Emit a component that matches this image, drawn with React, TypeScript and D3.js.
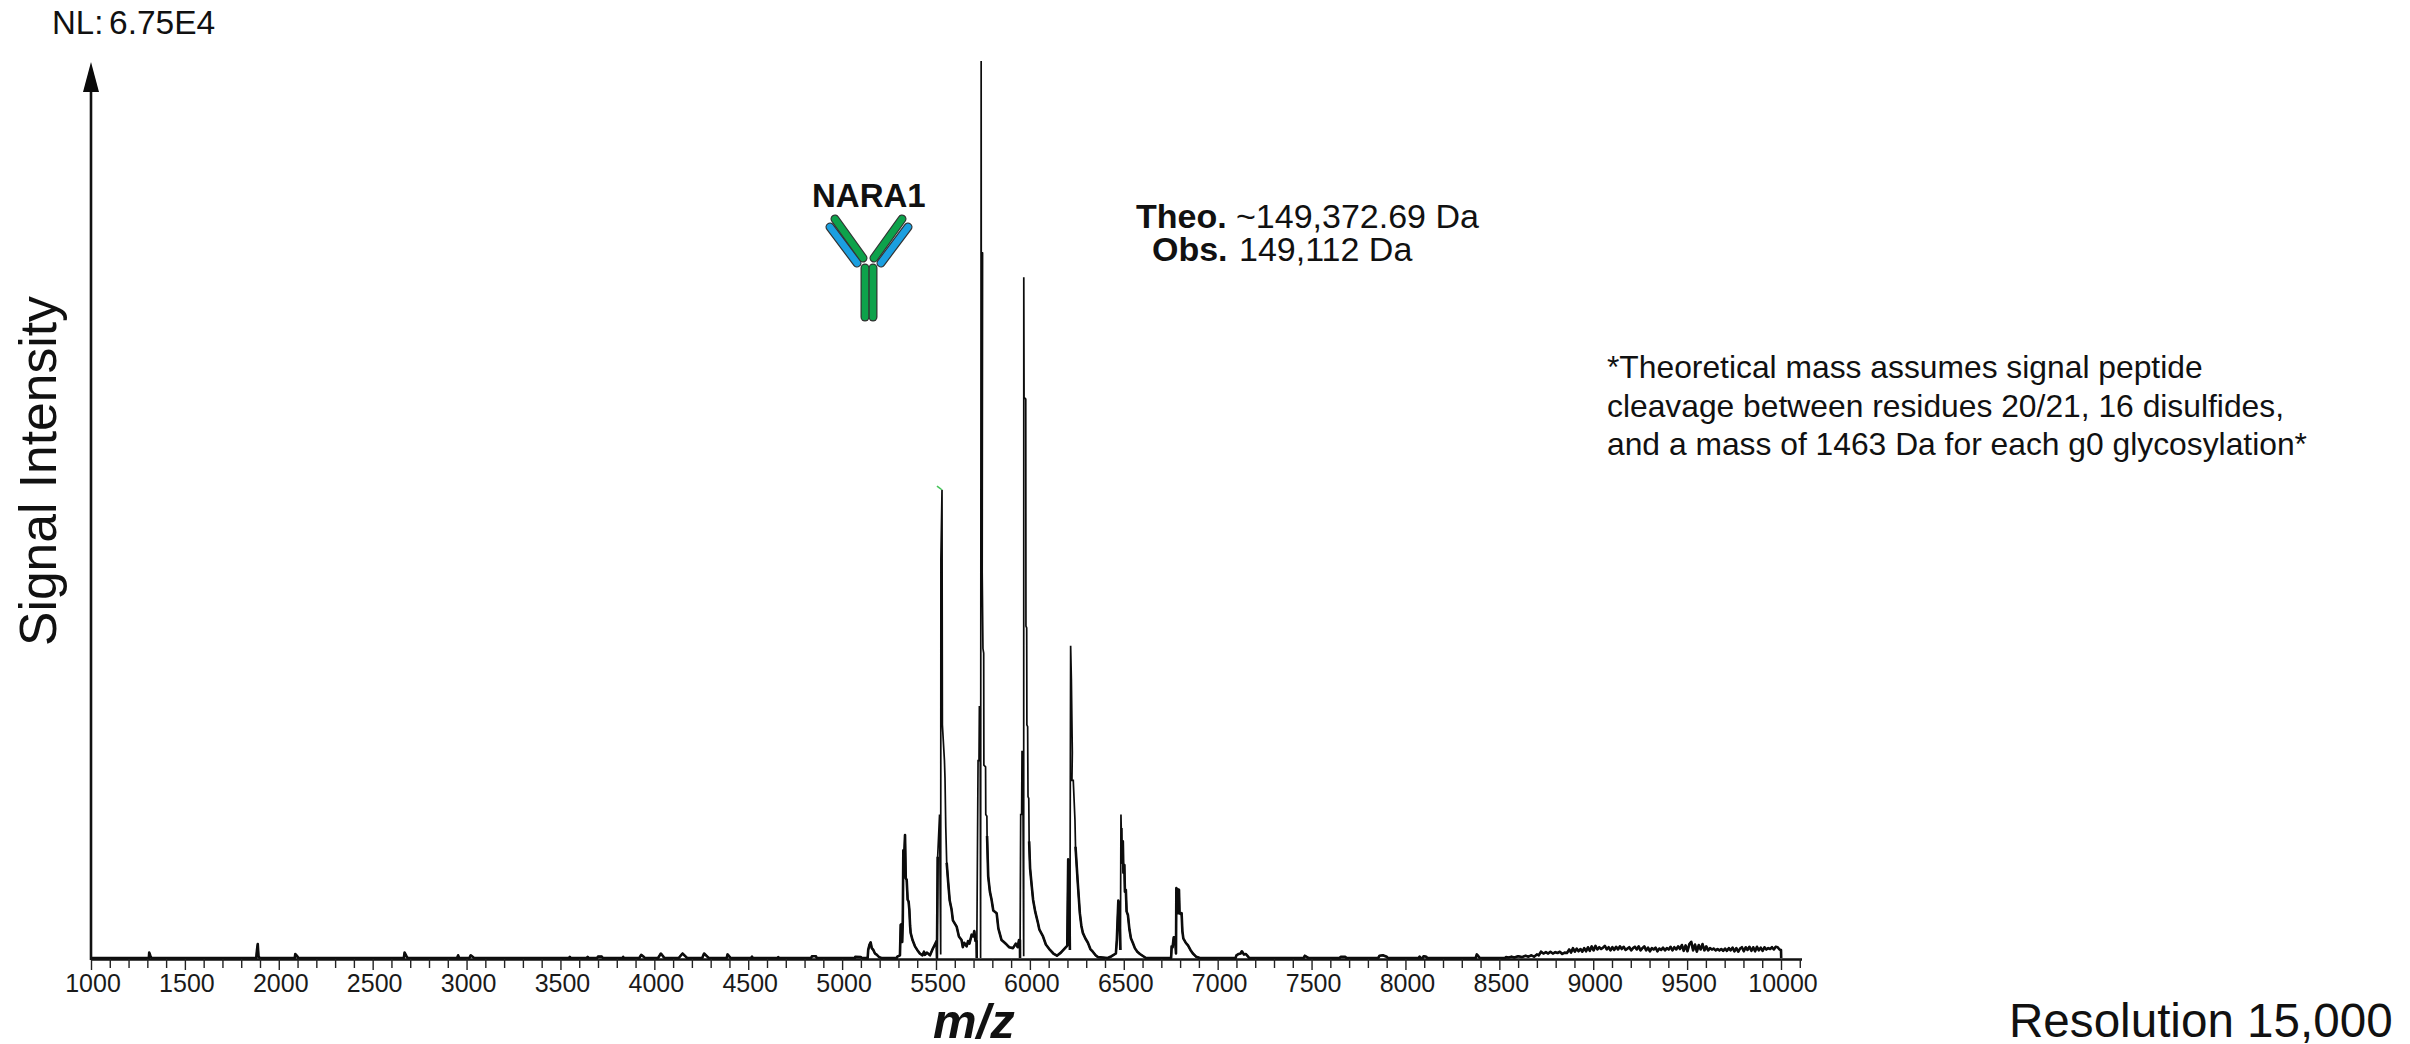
import { useEffect, useRef } from "react";
import * as d3 from "d3";

type Pt = [number, number];

// spectrum as [m/z, relative intensity %]
const lowMassBlips: Pt[] = [
  [1000, 0], [1308, 0], [1310, 0.6], [1316, 0.25], [1322, 0], [1880, 0], [1884, 0.9], [1888, 1.55], [1892, 0.2], [1898, 0],
  [2085, 0], [2088, 0.45], [2098, 0.2], [2104, 0], [2666, 0], [2670, 0.6], [2680, 0.2], [2686, 0],
  [2950, 0], [2955, 0.3], [2960, 0], [3015, 0], [3022, 0.3], [3034, 0.1], [3040, 0],
  [3545, 0], [3550, 0.12], [3555, 0], [3640, 0], [3645, 0.12], [3650, 0], [3695, 0], [3700, 0.15], [3720, 0.15], [3726, 0],
  [3830, 0], [3834, 0.12], [3838, 0], [3920, 0], [3930, 0.35], [3945, 0.1], [3950, 0],
  [4020, 0], [4035, 0.5], [4050, 0.1], [4055, 0], [4130, 0], [4150, 0.5], [4170, 0.1], [4175, 0],
  [4255, 0], [4265, 0.5], [4285, 0.1], [4290, 0], [4385, 0], [4390, 0.4], [4402, 0.1], [4406, 0],
  [4515, 0], [4520, 0.15], [4525, 0], [4655, 0], [4660, 0.1], [4665, 0], [4835, 0], [4840, 0.2], [4860, 0.2], [4865, 0],
  [5068, 0], [5070, 0.12], [5100, 0.1], [5104, 0],
];

const smallPeak: Pt[] = [
  [5136, 0], [5139, 0.9], [5146, 1.5], [5152, 1.75], [5158, 1.1], [5166, 0.9], [5175, 0.5], [5184, 0.37], [5197, 0.1], [5210, 0],
];

const firstPeak: Pt[] = [
  [5290, 0], [5294, 0.15], [5308, 0.3], [5312, 3.7], [5318, 3.8], [5320, 1.8], [5323, 4], [5326, 12], [5331, 11.5], [5335, 13.7],
  [5339, 8.9], [5344, 8.7], [5349, 6.5], [5354, 6.3], [5358, 5.4], [5362, 3.6], [5365, 2.8], [5375, 2], [5388, 1.3], [5400, 0.9],
  [5414, 0.5], [5428, 0.3], [5436, 0.7], [5441, 0.35], [5452, 0.6], [5468, 0.3], [5480, 0.9], [5494, 1.5], [5503, 1.9],
];

const secondPeak: Pt[] = [
  [5505, 0], [5509, 11.3], [5519, 16], [5525, 0.4], [5526, 44.5], [5532, 52.2], [5534, 26], [5545, 22], [5548, 20], [5552, 14.6],
  [5557, 10.6], [5565, 8.4], [5573, 6.4], [5583, 5.4], [5590, 4.2], [5610, 3.5], [5622, 2.4], [5636, 2], [5643, 1.2], [5650, 1.7],
  [5663, 1.3], [5671, 1.9], [5678, 1.6], [5690, 2.6], [5698, 2.4], [5704, 3], [5710, 1.9], [5716, 1.9],
];

const tallestPeak: Pt[] = [
  [5717, 0], [5724, 22], [5729, 22], [5731, 28], [5735, 28], [5737.5, 0], [5740.5, 100], [5741, 78.7], [5748, 78.6], [5746, 43],
  [5750, 34.5], [5754, 34], [5755, 21.5], [5764, 21.3], [5765, 16], [5771, 15.8], [5772, 13.6], [5778, 9.1], [5787, 7.4], [5796, 6.5],
  [5805, 5.3], [5823, 5], [5832, 3.3], [5849, 2], [5860, 1.8], [5876, 1.5], [5890, 1.2], [5910, 1.1], [5925, 1.6], [5935, 1.2], [5942, 2], [5947, 2],
];

const thirdPeak: Pt[] = [
  [5947.5, 0], [5951, 16], [5956, 16], [5958, 23], [5962, 23], [5967, 0.2], [5967.5, 75.9], [5969, 62.5], [5978, 62.3], [5979, 37],
  [5983, 36.8], [5984, 26], [5988, 25.8], [5990, 18], [5994, 17.8], [5996, 13], [6001, 10], [6009, 8.2], [6017, 6.5], [6028, 5.2],
  [6043, 3.9], [6050, 3.2], [6070, 2.4], [6085, 1.5], [6107, 0.9], [6125, 0.5], [6144, 0.26], [6165, 0.6], [6187, 1.1], [6196, 1.3],
];

const fourthPeak: Pt[] = [
  [6199, 1.4], [6204, 11], [6208, 10.8], [6213, 0.9], [6217, 34.8], [6221, 31], [6226, 22.9], [6224, 19.8], [6231, 19.8], [6240, 15.4],
  [6243, 12.4], [6254, 8.7], [6266, 5], [6274, 3.6], [6282, 2.8], [6295, 2.2], [6309, 1.7], [6322, 1], [6335, 0.7], [6350, 0.3], [6362, 0.1],
  [6415, 0], [6435, 0.2], [6458, 0.5],
];

const fifthPeak: Pt[] = [
  [6463, 2], [6471, 6.4], [6474, 6.2], [6482, 0.9], [6485, 16], [6488, 13], [6490, 14.5], [6492, 10.5], [6495, 13], [6498, 9.5], [6503, 10.4],
  [6506, 7.4], [6511, 7.6], [6515, 5.2], [6522, 4.8], [6530, 3.2], [6538, 2.2], [6548, 1.7], [6559, 1.1], [6572, 0.7], [6586, 0.45], [6618, 0],
];

const sixthPeak: Pt[] = [
  [6752, 0], [6755, 1.3], [6760, 1.2], [6766, 2.3], [6773, 2.3], [6778, 0.5], [6780, 7.8], [6783, 5.5], [6786, 7.7], [6789, 5], [6794, 7.6],
  [6797, 5], [6803, 4.9], [6808, 5], [6812, 3], [6817, 2.2], [6830, 1.7], [6842, 1.4], [6855, 0.9], [6868, 0.5], [6885, 0.15], [6905, 0],
];

const highMassBlips: Pt[] = [
  [7095, 0], [7100, 0.3], [7112, 0.45], [7122, 0.5], [7129, 0.75], [7140, 0.4], [7150, 0.45], [7160, 0.2], [7168, 0],
  [7458, 0], [7464, 0.25], [7478, 0.08], [7482, 0], [7650, 0], [7655, 0.12], [7680, 0.12], [7685, 0],
  [7855, 0], [7862, 0.25], [7880, 0.3], [7900, 0.15], [7906, 0], [8070, 0], [8075, 0.15], [8082, 0], [8092, 0], [8097, 0.2], [8110, 0.15], [8116, 0],
  [8374, 0], [8380, 0.4], [8392, 0.1], [8396, 0], [8530, 0], [8535, 0.1], [8550, 0.05], [8565, 0.15], [8580, 0.05], [8600, 0.2], [8620, 0.1],
  [8640, 0.25], [8655, 0.15], [8670, 0.3], [8685, 0.15],
];

const highMassRise: Pt[] = [
  [8700, 0.4], [8710, 0.3], [8722, 0.7], [8735, 0.5], [8748, 0.65], [8760, 0.5], [8772, 0.7], [8785, 0.5], [8798, 0.65], [8810, 0.55],
  [8822, 0.7], [8835, 0.45], [8848, 0.6], [8860, 0.55], [8872, 0.95], [8882, 0.6], [8892, 1.1], [8902, 0.7], [8912, 1.05], [8922, 0.75],
  [8932, 1], [8942, 0.7], [8952, 1.1], [8962, 0.75], [8972, 1.2], [8982, 0.8], [8992, 1.3], [9002, 0.85], [9012, 1.35], [9022, 0.95],
  [9032, 1.2], [9042, 1], [9052, 1.15], [9062, 1.35], [9072, 0.95], [9082, 1.2], [9092, 0.85], [9102, 1.2], [9112, 0.9], [9122, 1.25],
  [9132, 0.95], [9142, 1.3], [9152, 1], [9162, 1.25], [9172, 0.9], [9182, 1.05], [9192, 1.2], [9202, 0.85], [9212, 1.1], [9222, 1.25],
  [9232, 0.95], [9242, 1.3], [9252, 0.85], [9262, 1.1], [9272, 1.3], [9282, 0.85], [9292, 1.15], [9302, 0.75], [9312, 1.1], [9322, 0.95],
  [9332, 1.15], [9342, 0.75], [9352, 1.05], [9362, 0.9], [9372, 1.15], [9382, 0.85], [9392, 1.1], [9402, 0.95], [9412, 1.25], [9422, 0.85],
  [9432, 1.2], [9442, 0.95], [9452, 1.3], [9462, 1], [9472, 1.45], [9482, 0.8], [9492, 1.4], [9502, 0.75], [9512, 1.55], [9522, 1.8],
  [9532, 0.85], [9542, 1.5], [9552, 0.7], [9562, 1.45], [9572, 0.95], [9582, 1.55], [9592, 0.85], [9602, 1.3], [9612, 0.85], [9622, 1.1],
  [9632, 0.95], [9642, 1.05], [9652, 0.85], [9662, 1], [9672, 0.85], [9682, 1], [9692, 0.8], [9702, 1.05], [9712, 0.8], [9722, 1.1],
  [9732, 0.85], [9742, 1.15], [9752, 0.75], [9762, 1.1], [9772, 0.7], [9782, 1.05], [9792, 1.2], [9802, 0.75], [9812, 1.2], [9822, 0.9],
  [9832, 1.25], [9842, 0.8], [9852, 1.2], [9862, 0.75], [9872, 1.25], [9882, 0.85], [9892, 1.15], [9902, 0.8], [9912, 1.2], [9922, 0.95],
  [9932, 1.1], [9942, 1], [9952, 1.2], [9962, 0.95], [9972, 1.25], [9982, 1.2], [9992, 0.95], [10000, 0.9], [10001, 0],
];

const spectrum: Pt[] = [
  ...lowMassBlips, ...smallPeak, ...firstPeak, ...secondPeak, ...tallestPeak, ...thirdPeak,
  ...fourthPeak, ...fifthPeak, ...sixthPeak, ...highMassBlips, ...highMassRise,
];

// stray green label mark above the 5530 peak
const greenMark: Pt[] = [[5505, 52.6], [5518, 52.4], [5531, 52.2]];

const majorTicks = d3.range(1000, 10001, 500);
const allTicks = d3.range(1000, 10101, 100);

const theoLabel = "Theo.";
const theoValue = "~149,372.69 Da";
const obsLabel = "Obs.";
const obsValue = "149,112 Da";
const footnoteLines = [
  "*Theoretical mass assumes signal peptide",
  "cleavage between residues 20/21, 16 disulfides,",
  "and a mass of 1463 Da for each g0 glycosylation*",
];

const FONT = "'Liberation Sans', Arial, sans-serif";
const WIDTH = 2410;
const HEIGHT = 1044;

const xScale = d3.scaleLinear().domain([1000, 10000]).range([91, 1781]);
const yScale = d3.scaleLinear().domain([0, 100]).range([958, 61]);

// antibody arms and stem, [x1, y1, x2, y2, colour]
const GREEN = "#0da24b";
const BLUE = "#1b9fe0";
const antibody: [number, number, number, number, string][] = [
  [830, 227, 857, 263, BLUE],
  [835, 219, 863, 258, GREEN],
  [908, 227, 881, 263, BLUE],
  [902, 219, 874, 258, GREEN],
  [865, 268, 865, 317, GREEN],
  [873, 268, 873, 317, GREEN],
];

export default function App() {
  const axisRef = useRef<SVGGElement>(null);

  useEffect(() => {
    const g = d3.select(axisRef.current);
    g.selectAll("*").remove();
    const axis = d3
      .axisBottom(xScale)
      .tickValues(allTicks)
      .tickSizeOuter(0)
      .tickSize(9)
      .tickFormat((d) => (majorTicks.includes(+d) ? String(d) : ""));
    g.call(axis as any);
    g.select(".domain").attr("stroke", "#111").attr("stroke-width", 2.6).attr("d", `M91,0.5H1802`);
    g.selectAll<SVGLineElement, number>(".tick line")
      .attr("stroke", "#222")
      .attr("stroke-width", 1.4)
      .attr("y2", (d) => (majorTicks.includes(d) ? 11 : 9));
    g.selectAll(".tick text")
      .attr("x", 1.5)
      .attr("y", 15)
      .attr("dy", "0.71em")
      .attr("fill", "#1a1a1a")
      .style("font-family", FONT)
      .style("font-size", "25px");
  }, []);

  const line = d3
    .line<Pt>()
    .x((d) => xScale(d[0]))
    .y((d) => yScale(d[1]));

  // the low part of the trace prints heavier than the spike tops
  const lowLine = d3
    .line<Pt>()
    .defined((d) => d[1] < 14)
    .x((d) => xScale(d[0]))
    .y((d) => yScale(d[1]));

  return (
    <svg
      width={WIDTH}
      height={HEIGHT}
      style={{ position: "fixed", left: 0, top: 0, background: "#fff" }}
      fontFamily={FONT}
      fill="#111"
    >
      <path d={line(spectrum) ?? ""} fill="none" stroke="#0c0c0c" strokeWidth={1.7} strokeLinejoin="miter" strokeMiterlimit={1.5} />
      <path d={lowLine(spectrum) ?? ""} fill="none" stroke="#0c0c0c" strokeWidth={2.6} strokeLinejoin="round" />
      <path d={line(greenMark) ?? ""} fill="none" stroke="#45c45a" strokeWidth={1.5} />

      <g ref={axisRef} transform="translate(0,959)" />

      {/* y axis with arrow */}
      <line x1={91} x2={91} y1={960} y2={90} stroke="#111" strokeWidth={2.6} />
      <path d="M91,62L99,92L83,92Z" fill="#0a0a0a" />

      <text x={52} y={34} fontSize={33}>NL:</text>
      <text x={109} y={34} fontSize={33.5}>6.75E4</text>

      <text transform="translate(56,646) rotate(-90)" fontSize={51.6}>Signal Intensity</text>
      <text x={933} y={1038} fontSize={49} fontWeight="bold" fontStyle="italic">m/z</text>
      <text x={2009} y={1037} fontSize={47.6}>Resolution 15,000</text>

      <text x={812} y={207} fontSize={33} fontWeight="bold">NARA1</text>
      {antibody.map(([x1, y1, x2, y2], i) => (
        <line key={`o${i}`} x1={x1} y1={y1} x2={x2} y2={y2} stroke="#333" strokeWidth={9} strokeLinecap="round" />
      ))}
      {antibody.map(([x1, y1, x2, y2, c], i) => (
        <line key={`i${i}`} x1={x1} y1={y1} x2={x2} y2={y2} stroke={c} strokeWidth={6.6} strokeLinecap="round" />
      ))}

      <text x={1136} y={228} fontSize={34} fontWeight="bold">{theoLabel}</text>
      <text x={1236} y={228} fontSize={34}>{theoValue}</text>
      <text x={1152} y={261} fontSize={34} fontWeight="bold">{obsLabel}</text>
      <text x={1239} y={261} fontSize={34}>{obsValue}</text>

      {footnoteLines.map((t, i) => (
        <text key={t} x={1607} y={378 + i * 38.5} fontSize={31.8}>{t}</text>
      ))}
    </svg>
  );
}
